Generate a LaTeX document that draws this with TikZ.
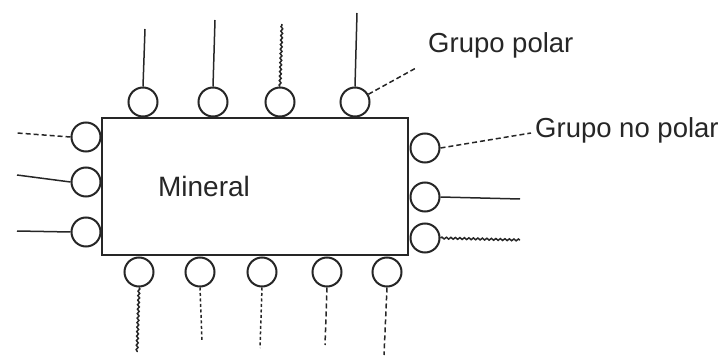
\documentclass[tikz,border=0pt]{standalone}
\usepackage{fontspec}
\setmainfont{Liberation Sans}
\usetikzlibrary{decorations.pathmorphing}
\begin{document}
\begin{tikzpicture}[x=1pt,y=-1pt,
  grp/.style={circle,draw=black!85,line width=2pt,minimum size=29pt,inner sep=0pt},
  tail/.style={draw=black!85,line width=1.5pt},
  wavy/.style={tail,decorate,decoration={snake,amplitude=0.9pt,segment length=4.5pt}},
  dsh/.style={tail,dash pattern=on 5pt off 3pt},
  dts/.style={tail,dash pattern=on 3pt off 2.5pt},
  lbl/.style={font=\fontsize{27.5}{30}\selectfont,anchor=west,inner sep=0pt,text=black!85}]
\useasboundingbox (0,0) rectangle (728,358);
% mineral block
\node[draw=black!85,line width=2pt,minimum width=306pt,minimum height=137pt,inner sep=0pt] (box) at (255,186.5) {};
\node[font=\fontsize{28}{30}\selectfont,inner sep=0pt,text=black!85] (minlbl) at (204,186) {Mineral};
% top groups
\node[grp] (t1) at (143,102) {};
\node[grp] (t2) at (213,102) {};
\node[grp] (t3) at (280,102) {};
\node[grp] (t4) at (355,102) {};
\coordinate (t1e) at (145,29);
\coordinate (t2e) at (215,20);
\coordinate (t3e) at (282,24);
\coordinate (t4e) at (357,13);
\draw[tail] (t1.north) -- (t1e);
\draw[tail] (t2.north) -- (t2e);
\draw[wavy] (t3.north) -- (t3e);
\draw[tail] (t4.north) -- (t4e);
% left groups
\node[grp] (l1) at (86,137) {};
\node[grp] (l2) at (86,182) {};
\node[grp] (l3) at (86,232) {};
\coordinate (l1e) at (17,133);
\coordinate (l2e) at (17,175);
\coordinate (l3e) at (17,231);
\draw[dsh] (l1.west) -- (l1e);
\draw[tail] (l2.west) -- (l2e);
\draw[tail] (l3.west) -- (l3e);
% right groups
\node[grp] (r1) at (425,148) {};
\node[grp] (r2) at (425,197) {};
\node[grp] (r3) at (425,238) {};
\coordinate (r2e) at (520,199);
\coordinate (r3e) at (520,240);
\draw[tail] (r2.east) -- (r2e);
\draw[wavy] (r3.east) -- (r3e);
% bottom groups
\node[grp] (b1) at (139,272) {};
\node[grp] (b2) at (200,272) {};
\node[grp] (b3) at (262,272) {};
\node[grp] (b4) at (327,272) {};
\node[grp] (b5) at (387,272) {};
\coordinate (b1e) at (137,352);
\coordinate (b2e) at (202,341);
\coordinate (b3e) at (260,348);
\coordinate (b4e) at (325,345);
\coordinate (b5e) at (384,355);
\draw[wavy] (b1.south) -- (b1e);
\draw[dts] (b2.south) -- (b2e);
\draw[dts] (b3.south) -- (b3e);
\draw[dsh] (b4.south) -- (b4e);
\draw[dsh] (b5.south) -- (b5e);
% labels
\node[lbl] (pol) at (428,45) {Grupo polar};
\node[lbl] (npol) at (535,130) {Grupo no polar};
\coordinate (pole) at (416,68);
\coordinate (npole) at (531,133);
\draw[dsh] (t4.30) -- (pole);
\draw[dsh] (r1.east) -- (npole);
\end{tikzpicture}
\end{document}
